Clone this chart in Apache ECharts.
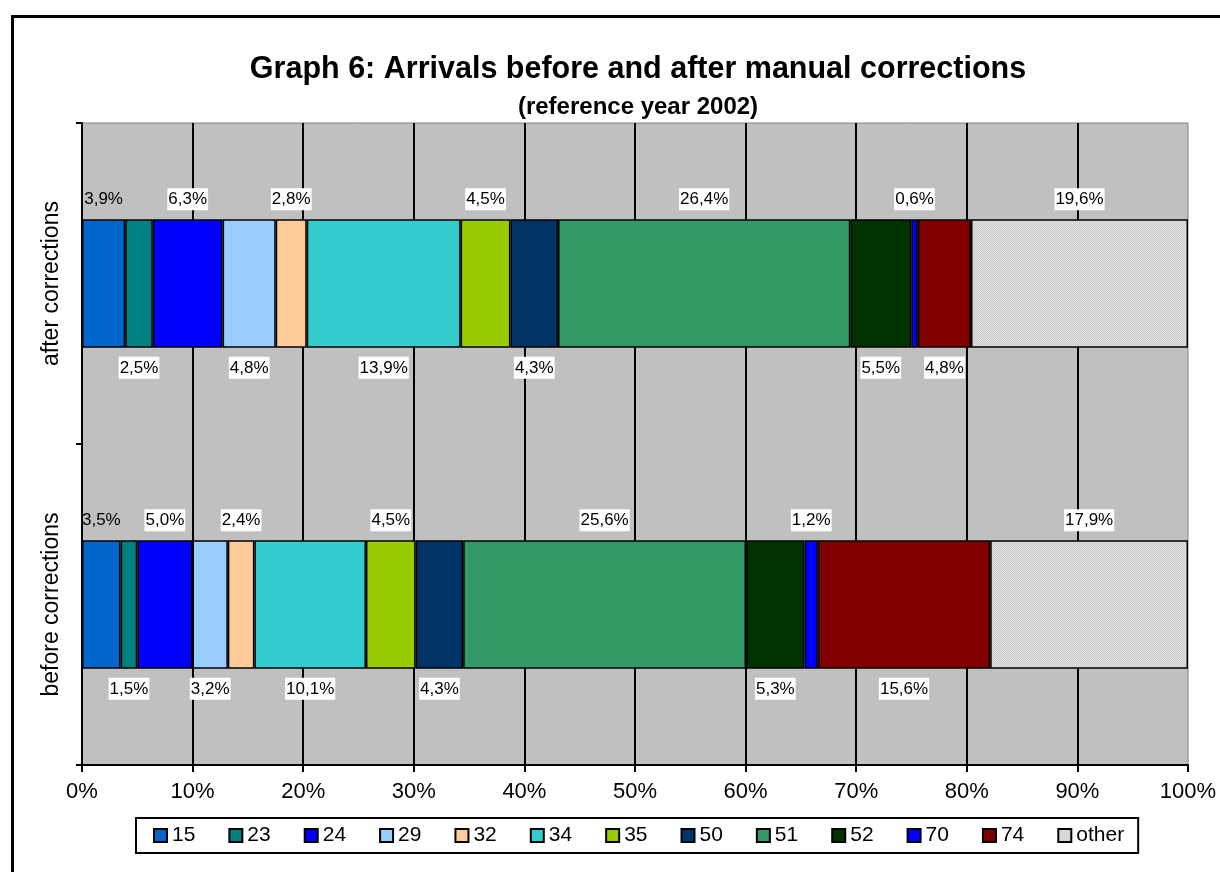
<!DOCTYPE html>
<html>
<head>
<meta charset="utf-8">
<script src="https://cdn.jsdelivr.net/npm/echarts@6/dist/echarts.min.js"></script>
<style>
html,body{margin:0;padding:0;background:#fff;}
#chart{width:1220px;height:872px;}
</style>
</head>
<body>
<div id="chart"></div>
<script>
// ---- data ----
const categories = ['before corrections', 'after corrections'];
const seriesNames = ['15', '23', '24', '29', '32', '34', '35', '50', '51', '52', '70', '74', 'other'];
const beforeValues = [3.5, 1.5, 5.0, 3.2, 2.4, 10.1, 4.5, 4.3, 25.6, 5.3, 1.2, 15.6, 17.9];
const afterValues  = [3.9, 2.5, 6.3, 4.8, 2.8, 13.9, 4.5, 4.3, 26.4, 5.5, 0.6, 4.8, 19.6];
const xTicks = [0, 10, 20, 30, 40, 50, 60, 70, 80, 90, 100];
const titleText = 'Graph 6: Arrivals before and after manual corrections';
const subtitleText = '(reference year 2002)';

// ---- styles ----
const pat = document.createElement('canvas');
pat.width = 2; pat.height = 2;
const pctx = pat.getContext('2d');
pctx.fillStyle = '#E9E9E9'; pctx.fillRect(0, 0, 2, 2);
pctx.fillStyle = '#C6C6C6'; pctx.fillRect(0, 0, 1, 1); pctx.fillRect(1, 1, 1, 1);
const colors = ['#0066CC', '#008080', '#0000FF', '#99CCFF', '#FFCC99', '#33CCCC', '#99CC00',
  '#003366', '#339966', '#003300', '#0000FF', '#800000', {image: pat, repeat: 'repeat'}];
const FONT = "'Liberation Sans', Arial, sans-serif";

const sumBefore = beforeValues.reduce((a, b) => a + b, 0);
const sumAfter = afterValues.reduce((a, b) => a + b, 0);
const fmt = v => v.toFixed(1).replace('.', ',') + '%';

const series = seriesNames.map((name, i) => ({
  name: name,
  type: 'bar',
  stack: 'total',
  barWidth: '40%',
  data: [
    {value: beforeValues[i] * 100 / sumBefore, raw: beforeValues[i]},
    {value: afterValues[i] * 100 / sumAfter, raw: afterValues[i]}
  ],
  itemStyle: {color: colors[i], borderColor: '#000', borderWidth: 1.5},
  label: {
    show: true,
    position: i % 2 === 0 ? 'top' : 'bottom',
    distance: 9,
    formatter: p => fmt(p.data.raw),
    color: '#000',
    fontFamily: FONT,
    fontSize: 17,
    backgroundColor: i === 0 ? 'transparent' : '#FFFFFF',
    padding: [3, 1, 2, 1]
  },
  emphasis: {disabled: true}
}));

const chart = echarts.init(document.getElementById('chart'), null, {renderer: 'canvas'});
chart.setOption({
  animation: false,
  backgroundColor: '#FFFFFF',
  title: [
    {text: titleText, left: 633, top: 49, textAlign: 'center',
     textStyle: {fontFamily: FONT, fontSize: 30.5, fontWeight: 'bold', color: '#000'}},
    {text: subtitleText, left: 633, top: 90, textAlign: 'center',
     textStyle: {fontFamily: FONT, fontSize: 24, fontWeight: 'bold', color: '#000'}}
  ],
  graphic: [
    {type: 'rect', left: 10, top: 14, shape: {x: 0, y: 0, width: 1240, height: 900},
     style: {fill: 'none', stroke: '#000', lineWidth: 3}, silent: true, z: 100}
  ],
  legend: {
    data: seriesNames,
    left: 136, top: 818,
    orient: 'horizontal',
    icon: 'rect',
    itemWidth: 13, itemHeight: 13, itemGap: 33,
    padding: [7, 14, 7, 17],
    backgroundColor: '#FFFFFF',
    borderColor: '#000', borderWidth: 2,
    textStyle: {fontFamily: FONT, fontSize: 21, color: '#000'},
    selectedMode: false
  },
  grid: {
    left: 82, right: 32, top: 123, bottom: 107,
    show: true, backgroundColor: '#C0C0C0', borderColor: '#808080', borderWidth: 1,
    containLabel: false
  },
  xAxis: {
    type: 'value', min: 0, max: 100, interval: 10,
    axisLine: {show: true, lineStyle: {color: '#000', width: 2}},
    axisTick: {show: true, length: 7, lineStyle: {color: '#000', width: 2}},
    axisLabel: {formatter: v => (xTicks.indexOf(v) >= 0 ? v + '%' : ''), fontFamily: FONT, fontSize: 22, color: '#000', margin: 16},
    splitLine: {show: true, showMaxLine: false, lineStyle: {color: '#000', width: 2}}
  },
  yAxis: {
    type: 'category', data: categories,
    axisLine: {show: true, lineStyle: {color: '#000', width: 2}},
    axisTick: {show: true, length: 6, lineStyle: {color: '#000', width: 2}},
    axisLabel: {rotate: 90, fontFamily: FONT, fontSize: 23, color: '#000', margin: 19},
    splitLine: {show: false}
  },
  series: series
});
</script>
</body>
</html>
